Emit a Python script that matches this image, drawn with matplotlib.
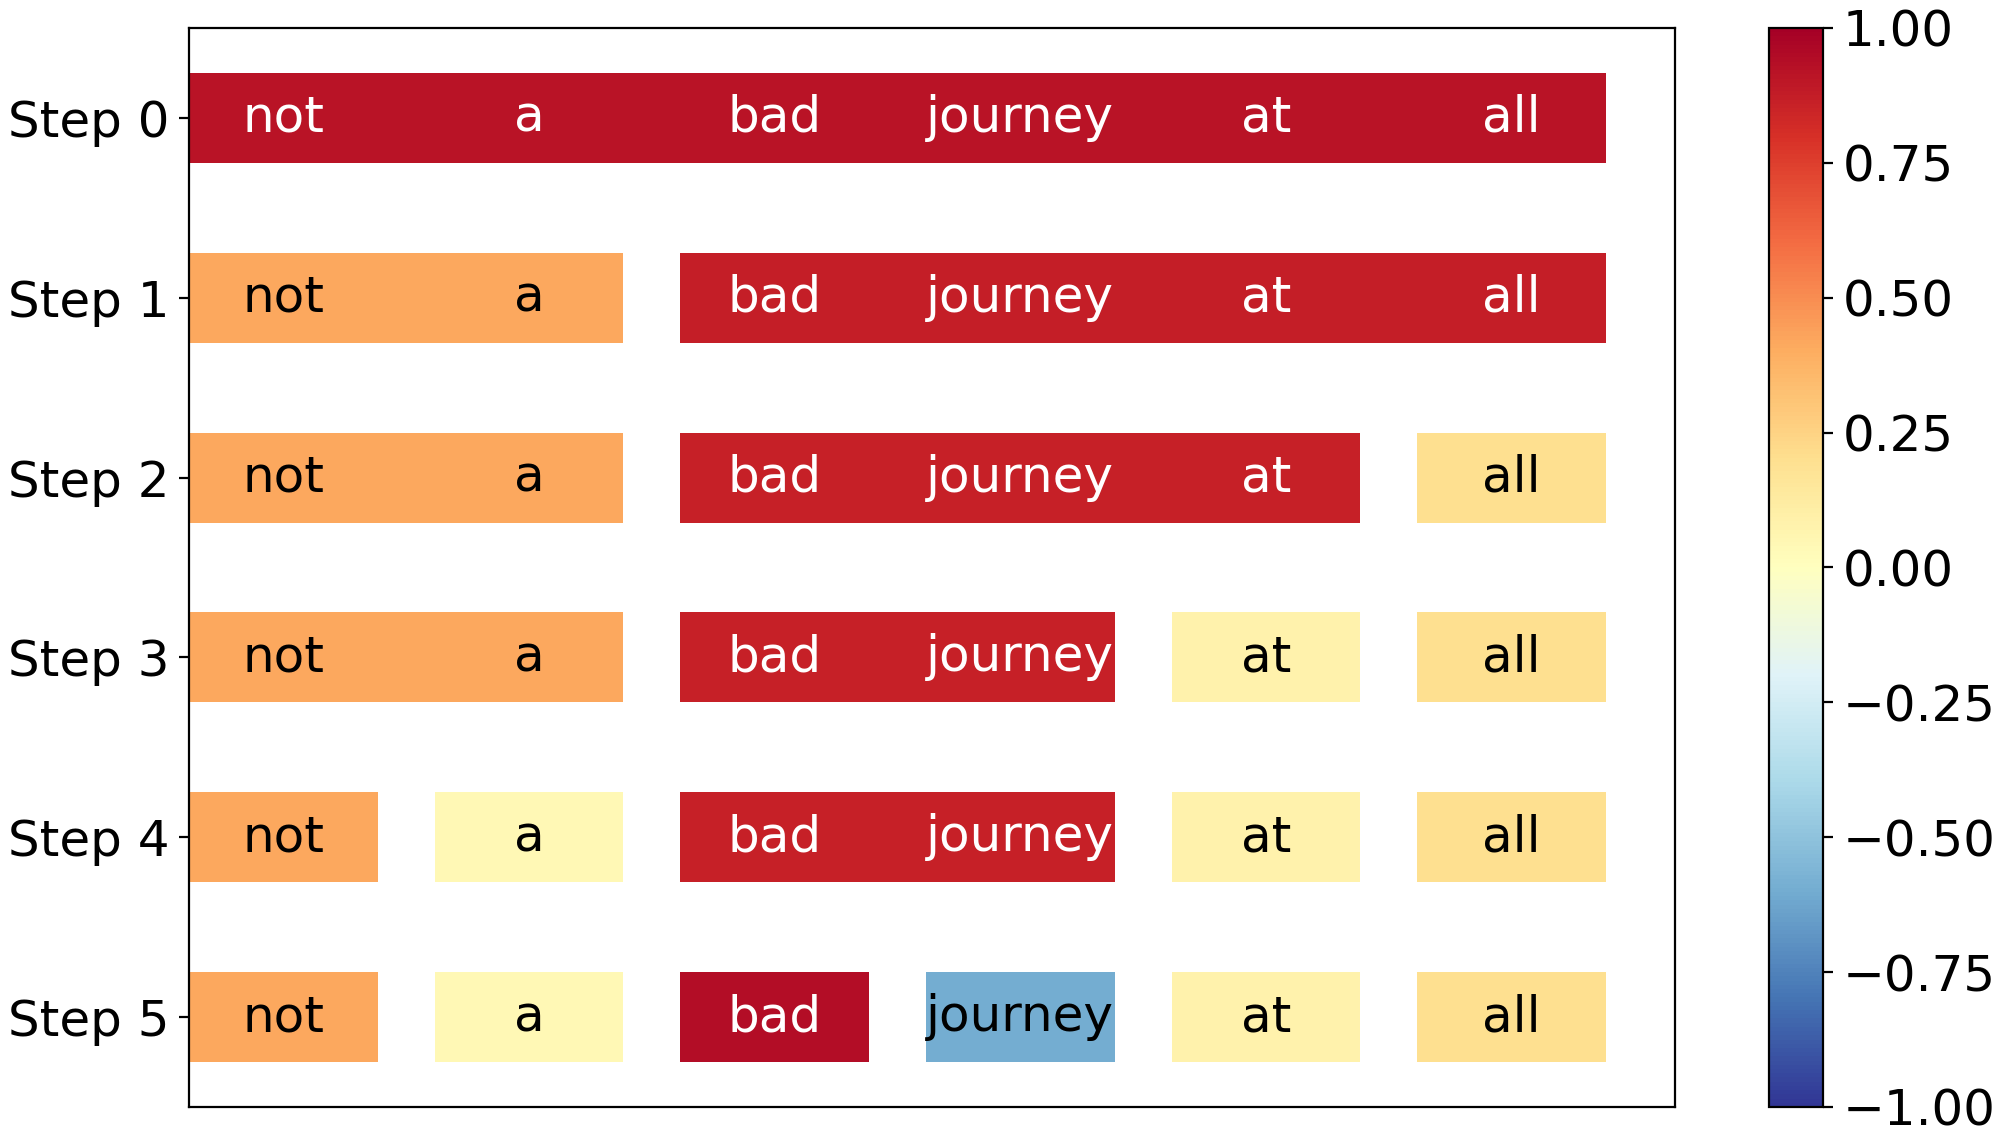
# hierarchical explanation plot: merged word spans per step,
# coloured by importance score (RdYlBu_r, -1..1)

import numpy as np
import matplotlib.pyplot as plt
from matplotlib.colors import Normalize
from matplotlib.cm import ScalarMappable
from matplotlib.ticker import FuncFormatter

words = ['not', 'a', 'bad', 'journey', 'at', 'all']
steps = ['Step 0', 'Step 1', 'Step 2', 'Step 3', 'Step 4', 'Step 5']

# spans per step: (first word, last word, score)
step0 = [(0, 5, 0.92)]
step1 = [(0, 1, 0.42), (2, 5, 0.87)]
step2 = [(0, 1, 0.42), (2, 4, 0.86), (5, 5, 0.20)]
step3 = [(0, 1, 0.42), (2, 3, 0.86), (4, 4, 0.08), (5, 5, 0.20)]
step4 = [(0, 0, 0.42), (1, 1, 0.04), (2, 3, 0.86), (4, 4, 0.08), (5, 5, 0.20)]
step5 = [(0, 0, 0.42), (1, 1, 0.04), (2, 2, 0.94), (3, 3, -0.60), (4, 4, 0.08), (5, 5, 0.20)]
spans = [step0, step1, step2, step3, step4, step5]

cbar_ticks = np.arange(-1, 1.01, 0.25)

cmap = plt.get_cmap('RdYlBu_r')
norm = Normalize(vmin=-1, vmax=1)
bw = 0.768  # width of a single word box
fs = 18

fig = plt.figure(figsize=(9.995, 5.685), dpi=200)
ax = fig.add_axes([0.0945, 0.0264, 0.7435, 0.949])

for row, segs in enumerate(spans):
    for s, e, v in segs:
        ax.barh(row, e - s + bw, left=s, height=0.5, color=cmap(norm(v)))
        tc = 'white' if v > 0.6 else 'black'
        for i in range(s, e + 1):
            ax.text(i + bw / 2, row, words[i], ha='center', va='center',
                    fontsize=fs, color=tc)

ax.set_xlim(0, 6.05)
ax.set_ylim(5.5, -0.5)
ax.set_yticks(range(len(steps)))
ax.set_yticklabels(steps, fontsize=fs)
ax.set_xticks([])

cax = fig.add_axes([0.885, 0.0264, 0.027, 0.949])
sm = ScalarMappable(norm=norm, cmap=cmap)
fmt = FuncFormatter(lambda x, p: ('%.2f' % x).replace('-', '\u2212'))
cb = fig.colorbar(sm, cax=cax, ticks=cbar_ticks, format=fmt)
cb.ax.tick_params(labelsize=fs)

plt.savefig('out.png')
